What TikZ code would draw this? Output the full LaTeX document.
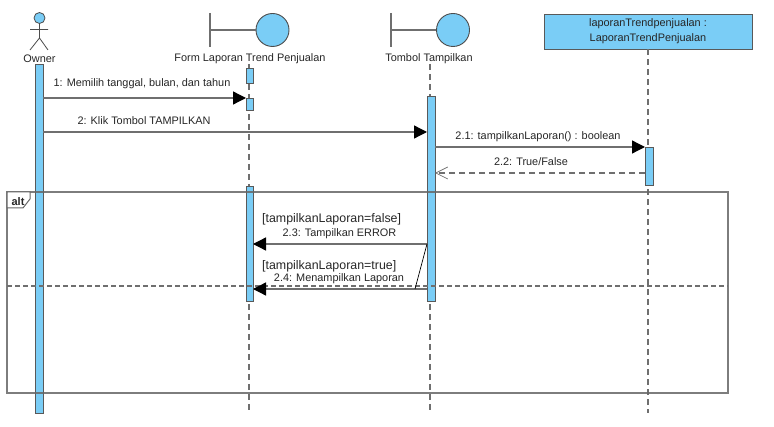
\documentclass[tikz,border=0pt]{standalone}
\usepackage{fontspec}
\setmainfont{Liberation Sans}
\usetikzlibrary{arrows.meta}
\definecolor{barblue}{HTML}{7ACDF6}
\definecolor{linegray}{HTML}{6F6F6F}
\begin{document}
\begin{tikzpicture}[
        x=1pt, y=-1pt,
        txt/.style={inner sep=0pt, yshift=-1.5pt, font=\fontsize{10.9}{13}\selectfont, text=black!85},
        cond/.style={inner sep=0pt, yshift=-1.5pt, anchor=west, font=\fontsize{12.4}{14}\selectfont, text=black!85},
        bar/.style={draw=black!65, fill=barblue, rectangle, minimum width=8pt, inner sep=0pt, line width=0.9pt},
        lifeline/.style={draw=linegray, line width=1.2pt, dash pattern=on 6pt off 4pt},
        bline/.style={draw=linegray, line width=1.3pt},
        circ/.style={draw=black!70, fill=barblue, circle, minimum size=33pt, inner sep=0pt, line width=0.9pt},
        msg/.style={draw=linegray, line width=1.3pt, -{Triangle[length=13pt, width=13pt, color=black]}},
        ret/.style={draw=linegray, line width=1.2pt, dash pattern=on 6pt off 4pt, -{Straight Barb[length=12pt, width=12pt, line width=0.7pt]}},
        frame/.style={draw=black!60, line width=1.5pt, opacity=0.85}
    ]
        \useasboundingbox (0,0) rectangle (774,427);

        % lifelines
        \coordinate (formtop) at (249,64);
        \coordinate (formend) at (249,413);
        \coordinate (tomboltop) at (430,64);
        \coordinate (tombolend) at (430,413);
        \coordinate (objend) at (648,413);
        \draw[lifeline] (formtop) -- (formend);
        \draw[lifeline] (tomboltop) -- (tombolend);

        % owner
        \node[draw=black!70, fill=barblue, circle, minimum size=11pt, inner sep=0pt, line width=0.8pt] (head) at (39.5,18) {};
        \coordinate (hip) at (39.5,38);
        \coordinate (armL) at (30,29.5);
        \coordinate (armR) at (48,29.5);
        \coordinate (legL) at (30,50);
        \coordinate (legR) at (48,50);
        \draw[draw=black!70, line width=0.8pt] (head.south) -- (hip) (armL) -- (armR) (legL) -- (hip) -- (legR);
        \node[txt] (ownerlabel) at (39.5,57) {Owner};

        % boundaries
        \node[circ] (formcirc) at (272.5,30) {};
        \coordinate (formbar) at (210,30);
        \coordinate (formbarT) at (210,13);
        \coordinate (formbarB) at (210,47);
        \draw[bline] (formbarT) -- (formbarB) (formbar) -- (formcirc.west);
        \node[txt] (formlabel) at (250,57) {Form Laporan Trend Penjualan};

        \node[circ] (tombolcirc) at (453,30) {};
        \coordinate (tombolbar) at (391,30);
        \coordinate (tombolbarT) at (391,13);
        \coordinate (tombolbarB) at (391,47);
        \draw[bline] (tombolbarT) -- (tombolbarB) (tombolbar) -- (tombolcirc.west);
        \node[txt] (tombollabel) at (429,57) {Tombol Tampilkan};

        % object
        \node[rectangle, draw=black!65, fill=barblue, line width=0.9pt, minimum width=208pt, minimum height=35pt, inner sep=0pt] (obj) at (648,31.5) {};
        \node[txt] (objline1) at (648,22) {laporanTrendpenjualan :};
        \node[txt] (objline2) at (648,37) {LaporanTrendPenjualan};
        \draw[lifeline] (obj.south) -- (objend);

        % activations
        \node[bar, minimum height=349pt] (ownerbar) at (39,238.5) {};
        \node[bar, minimum width=7pt, minimum height=15pt] (formbar1) at (249.5,75.5) {};
        \node[bar, minimum width=7pt, minimum height=12pt] (formbar2) at (249.5,104) {};
        \node[bar, minimum width=7pt, minimum height=115pt] (formbar3) at (249.5,243.5) {};
        \node[bar, minimum height=205pt] (tombolbar1) at (431,198.5) {};
        \node[bar, minimum height=38pt] (objbar) at (649,166) {};

        % alt frame
        \coordinate (altA) at (7,192);
        \coordinate (altB) at (728,393);
        \coordinate (altL) at (7,286);
        \coordinate (altR) at (728,286);
        \draw[frame] (altA) rectangle (altB);
        \draw[draw=linegray, line width=1.1pt, dash pattern=on 5pt off 3pt] (altL) -- (altR);
        \coordinate (tabA) at (7,208);
        \coordinate (tabB) at (23,208);
        \coordinate (tabC) at (30,199);
        \coordinate (tabD) at (30,192);
        \fill[white] (altA) -- (tabA) -- (tabB) -- (tabC) -- (tabD) -- cycle;
        \draw[draw=black!60, line width=1pt] (altA) -- (tabA) -- (tabB) -- (tabC) -- (tabD) -- cycle;
        \node[txt, font=\fontsize{11}{13}\selectfont\bfseries] (altlabel) at (18,200) {alt};

        % messages
        \coordinate (m1a) at (43,98);
        \coordinate (m1b) at (246,98);
        \coordinate (m2a) at (43,132);
        \coordinate (m2b) at (427,132);
        \coordinate (m3a) at (435,147);
        \coordinate (m3b) at (645,147);
        \coordinate (m4a) at (645,173);
        \coordinate (m4b) at (435,173);
        \coordinate (m5a) at (427,244);
        \coordinate (m5b) at (253,244);
        \coordinate (m6a) at (427,289);
        \coordinate (m6b) at (253,289);
        \coordinate (m6c) at (415,289);

        \draw[msg] (m1a) -- (m1b);
        \draw[msg] (m2a) -- (m2b);
        \draw[msg] (m3a) -- (m3b);
        \draw[ret] (m4a) -- (m4b);
        \draw[msg] (m5a) -- (m5b);
        \draw[msg] (m6a) -- (m6b);
        \draw[draw=black, line width=0.7pt] (m5a) -- (m6c);

        \node[txt] (m1label) at (142,82) {1: Memilih tanggal, bulan, dan tahun};
        \node[txt] (m2label) at (144,119) {2: Klik Tombol TAMPILKAN};
        \node[txt] (m3label) at (538,135) {2.1: tampilkanLaporan() : boolean};
        \node[txt] (m4label) at (531,160) {2.2: True/False};
        \node[cond] (cond1) at (262,218) {[tampilkanLaporan=false]};
        \node[txt] (m5label) at (339.5,232) {2.3: Tampilkan ERROR};
        \node[cond] (cond2) at (262,264.5) {[tampilkanLaporan=true]};
        \node[txt, fill=white, inner xsep=1pt, inner ysep=1pt, minimum width=134pt] (m6label) at (339,277) {2.4: Menampilkan Laporan};
    \end{tikzpicture}
\end{document}
